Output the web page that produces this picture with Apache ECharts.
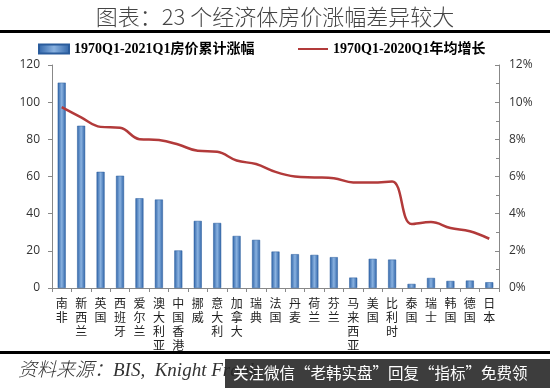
<!DOCTYPE html>
<html><head><meta charset="utf-8">
<script src="https://cdn.jsdelivr.net/npm/echarts@6/dist/echarts.min.js"></script>
<style>html,body{margin:0;padding:0;background:#fff}#c{width:550px;height:388px}</style>
</head><body><div id="c"></div>
<script>
const categories = ['南非','新西兰','英国','西班牙','爱尔兰','澳大利亚','中国香港','挪威','意大利','加拿大','瑞典','法国','丹麦','荷兰','芬兰','马来西亚','美国','比利时','泰国','瑞士','韩国','德国','日本'];
const cumulativeGrowth = [110.5, 87.3, 62.5, 60.4, 48.3, 47.6, 20.2, 36.1, 35.0, 28.0, 25.9, 19.6, 18.2, 17.8, 16.6, 5.6, 15.7, 15.3, 2.2, 5.4, 3.8, 4.0, 3.1];
const annualGrowth = [9.73, 9.18, 8.67, 8.62, 8.01, 7.96, 7.72, 7.38, 7.33, 6.86, 6.67, 6.25, 6.0, 5.95, 5.91, 5.68, 5.68, 5.73, 3.44, 3.55, 3.23, 3.05, 2.65];
const leftTicks = {min: 0, max: 120, interval: 20};
const rightTicks = {min: 0, max: 12, interval: 2};
const barName = '1970Q1-2021Q1房价累计涨幅';
const lineName = '1970Q1-2020Q1年均增长';

const chart = echarts.init(document.getElementById('c'), null, {renderer: 'canvas'});
const serif = '"Liberation Serif","Noto Sans CJK SC",serif';
const barGrad = new echarts.graphic.LinearGradient(0, 0, 1, 0, [
  {offset: 0, color: '#2F64A8'},
  {offset: 0.5, color: '#8AB2E0'},
  {offset: 1, color: '#2F64A8'}
]);
chart.setOption({
  animation: false,
  title: {
    text: '图表：23 个经济体房价涨幅差异较大',
    left: 'center', top: 1,
    textStyle: {fontFamily: '"Noto Sans CJK SC"', fontWeight: 300, fontSize: 22, color: '#444'}
  },
  legend: [{
    data: [{name: barName, icon: 'rect'}],
    left: 33, top: 37, itemWidth: 30, itemHeight: 9, itemGap: 4,
    textStyle: {fontFamily: serif, fontWeight: 'bold', fontSize: 14, color: '#000'}
  }, {
    data: [{name: lineName, icon: 'rect', itemStyle: {color: '#B23A3A'}}],
    left: 293, top: 37, itemWidth: 30, itemHeight: 2,
    textStyle: {fontFamily: serif, fontWeight: 'bold', fontSize: 14, color: '#000'}
  }],
  grid: {left: 52, right: 51, top: 65, bottom: 100, containLabel: false},
  xAxis: {
    type: 'category', data: categories, boundaryGap: true,
    axisLine: {lineStyle: {color: '#888'}},
    axisTick: {show: true, alignWithLabel: false, length: 4, lineStyle: {color: '#888'}},
    axisLabel: {
      interval: 0, margin: 8, fontSize: 12, lineHeight: 14, color: '#222',
      fontFamily: '"Noto Sans CJK SC"',
      formatter: v => v.split('').join('\n')
    }
  },
  yAxis: [{
    type: 'value', min: leftTicks.min, max: leftTicks.max, interval: leftTicks.interval,
    splitLine: {show: false},
    axisLine: {show: true, lineStyle: {color: '#888'}},
    axisTick: {show: true, length: 4, lineStyle: {color: '#888'}},
    axisLabel: {margin: 12, fontSize: 12, color: '#333', fontFamily: '"Open Sans",sans-serif'}
  }, {
    type: 'value', min: rightTicks.min, max: rightTicks.max, interval: rightTicks.interval,
    position: 'right',
    splitLine: {show: false},
    axisLine: {show: true, lineStyle: {color: '#888'}},
    axisTick: {show: true, inside: true, length: 4, lineStyle: {color: '#888'}},
    minorTick: {show: true, splitNumber: 2, length: 3, lineStyle: {color: '#888'}},
    axisLabel: {margin: 10, fontSize: 12, color: '#333', fontFamily: '"Open Sans",sans-serif', formatter: '{value}%'}
  }],
  series: [{
    name: barName, type: 'bar', data: cumulativeGrowth, barWidth: 8,
    itemStyle: {color: barGrad, borderColor: '#2A5C9C', borderWidth: 0.5}
  }, {
    name: lineName, type: 'line', yAxisIndex: 1, data: annualGrowth, smooth: 0.4,
    showSymbol: false, symbol: 'none',
    lineStyle: {color: '#B23A3A', width: 2.5}, itemStyle: {color: '#B23A3A'}
  }],
  graphic: [
    {type: 'rect', shape: {x: 0, y: 30, width: 550, height: 3}, style: {fill: '#000'}},
    {type: 'rect', shape: {x: 0, y: 351, width: 550, height: 3}, style: {fill: '#000'}},
    {type: 'text', x: 18, y: 361, style: {text: '资料来源：BIS,  Knight Frank', fontFamily: '"Liberation Serif","Noto Sans CJK SC",serif', fontStyle: 'italic', fontWeight: 300, fontSize: 19, fill: '#333'}},
    {type: 'rect', shape: {x: 225, y: 359, width: 325, height: 29}, style: {fill: 'rgba(40,40,40,0.9)'}},
    {type: 'text', x: 233, y: 365, style: {text: '关注微信“老韩实盘”回复“指标”免费领', fontFamily: '"Noto Sans CJK SC"', fontSize: 15.5, fill: '#fff'}}
  ]
});
</script></body></html>
